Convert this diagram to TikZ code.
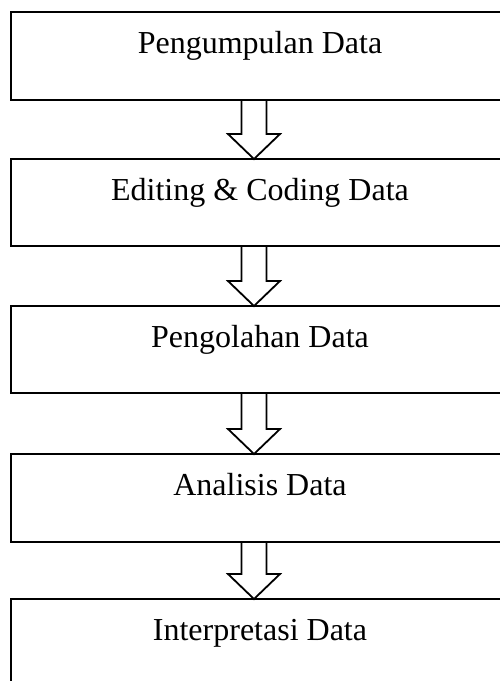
\documentclass[tikz,border=0pt]{standalone}
\usepackage{fontspec}
\setmainfont{Liberation Serif}
\usetikzlibrary{calc}
\tikzset{
  box/.style={draw, line width=1.9pt, rectangle, inner sep=0pt, outer sep=0pt, minimum width=509pt},
  lbl/.style={anchor=base, inner sep=0pt, font=\fontsize{32}{38}\selectfont},
  blockarr/.style={draw, fill=white, line width=1.8pt, line join=miter}
}
\begin{document}
\begin{tikzpicture}[x=1pt,y=-1pt]
\useasboundingbox (0,0) rectangle (500,681);
\clip (0,0) rectangle (500,681);
\coordinate (tx) at (260,0);
\coordinate (ax) at (254,0);
\coordinate (al) at (241.5,0);
\coordinate (ar) at (266.5,0);
\node[box, minimum height=88pt] (b1) at (265.5,56) {};
\node[box, minimum height=87pt] (b2) at (265.5,202.5) {};
\node[box, minimum height=87pt] (b3) at (265.5,349.5) {};
\node[box, minimum height=88pt] (b4) at (265.5,498) {};
\node[box, minimum height=100pt] (b5) at (265.5,649) {};
\node[lbl] (t1) at ($(b1.north -| tx)+(0,41)$) {Pengumpulan Data};
\node[lbl] (t2) at ($(b2.north -| tx)+(0,41)$) {Editing \& Coding Data};
\node[lbl] (t3) at ($(b3.north -| tx)+(0,41)$) {Pengolahan Data};
\node[lbl] (t4) at ($(b4.north -| tx)+(0,41)$) {Analisis Data};
\node[lbl] (t5) at ($(b5.north -| tx)+(0,41)$) {Interpretasi Data};
\foreach \a/\b in {b1/b2,b2/b3,b3/b4,b4/b5}{
  \draw[blockarr] (\b.north -| ax) -- ++(-26,-25) -- ++(13.5,0) -- (\a.south -| al)
    -- (\a.south -| ar) -- ($(\b.north -| ar)+(0,-25)$) -- ++(13.5,0) -- cycle;
}
\end{tikzpicture}
\end{document}
